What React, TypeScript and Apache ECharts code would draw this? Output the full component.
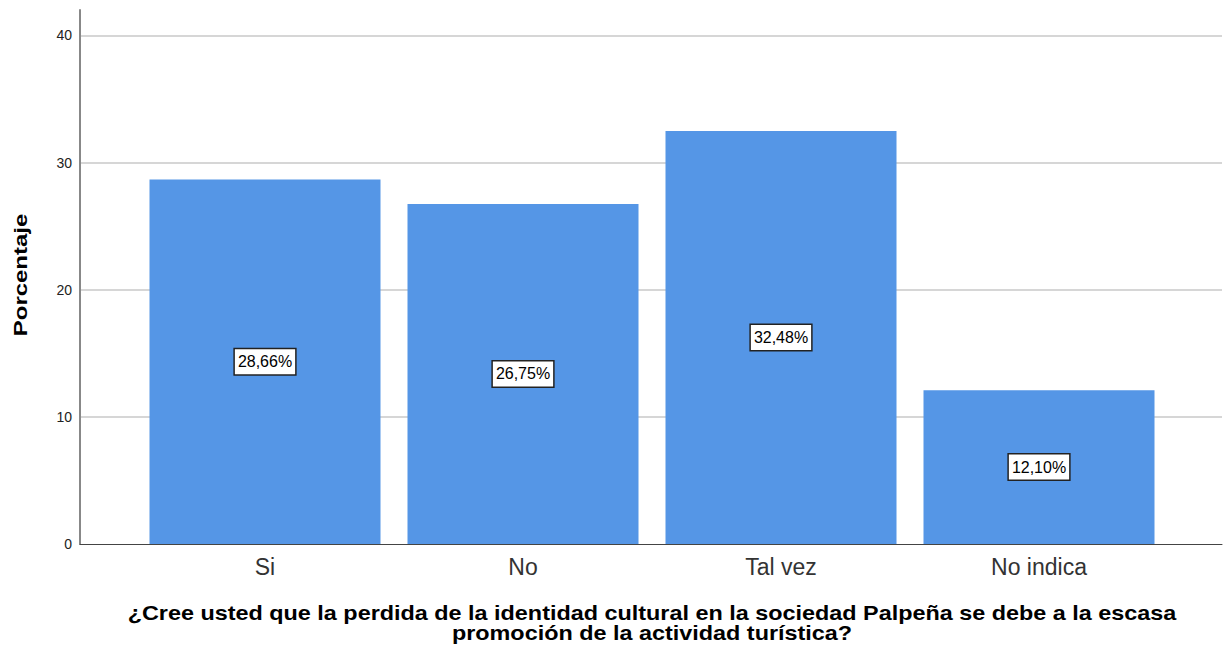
import React, { useEffect, useRef } from "react";
import * as echarts from "echarts";

const categories = ["Si", "No", "Tal vez", "No indica"];
const percentages = [28.66, 26.75, 32.48, 12.1];
const yTicks = { min: 0, max: 42, interval: 10 };
const yAxisTitle = "Porcentaje";
const xAxisTitle = [
  "¿Cree usted que la perdida de la identidad cultural en la sociedad Palpeña se debe a la escasa",
  "promoción de la actividad turística?",
];

const FONT = "'Liberation Sans', Arial, sans-serif";

export default function App() {
  const ref = useRef<HTMLDivElement>(null);
  useEffect(() => {
    if (!ref.current) return;
    const chart = echarts.init(ref.current, undefined, { renderer: "svg" });
    const top = 10;
    const bottom = 106;
    chart.setOption({
      animation: false,
      grid: [
        { left: 80, right: 10, top, bottom },
        { left: 136, right: 64, top, bottom },
      ],
      xAxis: [
        {
          gridIndex: 0,
          type: "value",
          min: 0,
          max: 1,
          axisLine: { show: true, lineStyle: { color: "#444", width: 1 } },
          axisTick: { show: false },
          axisLabel: { show: false },
          splitLine: { show: false },
        },
        {
          gridIndex: 1,
          type: "category",
          data: categories,
          axisLine: { show: false },
          axisTick: { show: false },
          axisLabel: {
            color: "#333",
            fontSize: 23,
            fontFamily: FONT,
            margin: 11,
          },
        },
      ],
      yAxis: [
        {
          gridIndex: 0,
          type: "value",
          min: yTicks.min,
          max: yTicks.max,
          interval: yTicks.interval,
          axisLine: { show: true, lineStyle: { color: "#888", width: 2 } },
          axisTick: { show: false },
          axisLabel: {
            color: "#222",
            fontSize: 14,
            fontFamily: FONT,
            margin: 8,
            showMaxLabel: false,
          },
          splitLine: {
            show: true,
            showMinLine: false,
            showMaxLine: false,
            lineStyle: { color: "#d6d6d6", width: 2 },
          },
        },
        {
          gridIndex: 1,
          type: "value",
          min: yTicks.min,
          max: yTicks.max,
          interval: yTicks.interval,
          show: false,
        },
      ],
      series: [
        {
          type: "bar",
          xAxisIndex: 1,
          yAxisIndex: 1,
          data: percentages,
          barWidth: 231,
          itemStyle: { color: "#5596e6" },
          label: {
            show: true,
            position: "inside",
            formatter: (p: any) => p.value.toFixed(2).replace(".", ",") + "%",
            color: "#000",
            fontSize: 16,
            lineHeight: 18,
            fontFamily: FONT,
            backgroundColor: "#fff",
            borderColor: "#222",
            borderWidth: 1.5,
            padding: [4, 3, 3, 3],
          },
        },
      ],
      graphic: [
        {
          type: "text",
          rotation: Math.PI / 2,
          x: 20,
          y: 275,
          scaleX: 1.26,
          style: {
            text: yAxisTitle,
            font: `bold 19px ${FONT}`,
            fill: "#000",
            textAlign: "center",
            textVerticalAlign: "middle",
          },
        },
        {
          type: "text",
          x: 652,
          y: 613,
          scaleX: 1.17,
          style: {
            text: xAxisTitle[0],
            font: `bold 20px ${FONT}`,
            fill: "#000",
            textAlign: "center",
            textVerticalAlign: "middle",
          },
        },
        {
          type: "text",
          x: 652,
          y: 633,
          scaleX: 1.17,
          style: {
            text: xAxisTitle[1],
            font: `bold 20px ${FONT}`,
            fill: "#000",
            textAlign: "center",
            textVerticalAlign: "middle",
          },
        },
      ],
    });
    return () => chart.dispose();
  }, []);
  return (
    <div
      ref={ref}
      style={{ width: 1232, height: 650, position: "absolute", left: 0, top: 0 }}
    />
  );
}
